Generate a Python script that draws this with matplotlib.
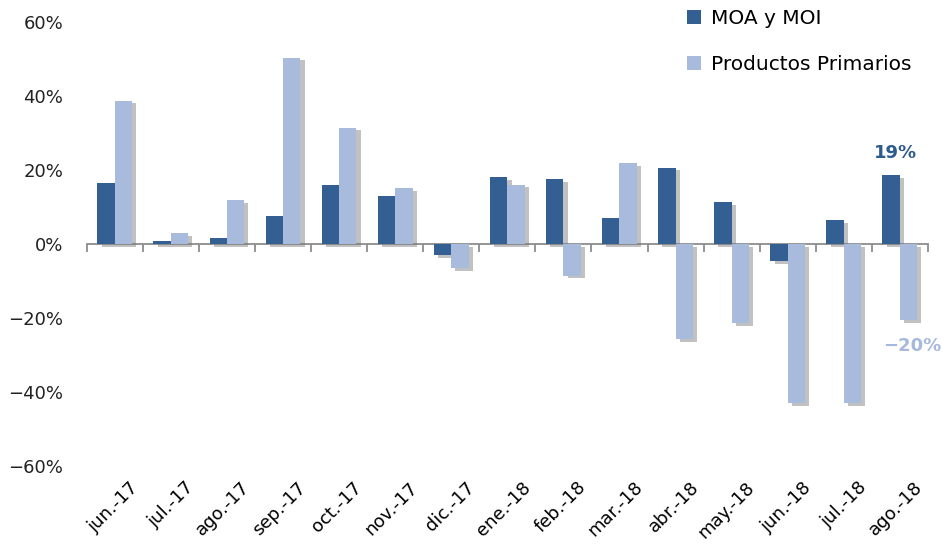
import numpy as np
import matplotlib
matplotlib.use("Agg")
import matplotlib.pyplot as plt
import matplotlib.patheffects as pe
import matplotlib.transforms as mtransforms
from matplotlib.ticker import FuncFormatter

meses = ["jun.-17", "jul.-17", "ago.-17", "sep.-17", "oct.-17", "nov.-17", "dic.-17",
         "ene.-18", "feb.-18", "mar.-18", "abr.-18", "may.-18", "jun.-18", "jul.-18", "ago.-18"]
moa_moi = [16.5, 0.8, 1.7, 7.6, 16.0, 12.9, -3.0, 18.0, 17.5, 6.9, 20.6, 11.3, -4.7, 6.5, 18.6]
primarios = [38.7, 2.9, 11.8, 50.3, 31.4, 15.0, -6.5, 16.0, -8.6, 21.8, -25.7, -21.4, -43.0, -43.0, -20.6]
etiquetas = ["19%", "\u221220%"]

c_moa = "#335f92"
c_pri = "#a9bbdd"

plt.rcParams['font.family'] = ['DejaVu Sans']

fig = plt.figure(figsize=(9.43, 5.58), dpi=100)
ax = fig.add_axes([0.092, 0.165, 0.892, 0.796])

x = np.arange(len(meses))
w = 0.31

b1 = ax.bar(x - w/2, moa_moi, w, color=c_moa, label="MOA y MOI", zorder=3)
b2 = ax.bar(x + w/2, primarios, w, color=c_pri, label="Productos Primarios", zorder=3)

leg = ax.legend(loc="upper right", bbox_to_anchor=(1.002, 1.07), frameon=False,
                fontsize=14.5, handlelength=0.7, handleheight=0.7, handletextpad=0.5,
                labelspacing=1.35)

# sombra de las barras (despues de la leyenda para que no la copie)
sombra = [pe.SimplePatchShadow(offset=(3, -2), shadow_rgbFace='#777777', alpha=0.45), pe.Normal()]
for b in list(b1) + list(b2):
    b.set_path_effects(sombra)

ax.set_xlim(-0.5, len(meses) - 0.5)
ax.set_ylim(-60, 60)
ax.set_yticks([-60, -40, -20, 0, 20, 40, 60])
ax.yaxis.set_major_formatter(FuncFormatter(lambda v, p: f"{v:.0f}%".replace("-", "\u2212")))

# linea del cero con marcas entre categorias
for s in ["left", "right", "bottom"]:
    ax.spines[s].set_visible(False)
ax.spines["top"].set_position(("data", 0))
ax.spines["top"].set_color("#8c8c8c")
ax.spines["top"].set_linewidth(1.3)
ax.set_xticks(x)
ax.set_xticks(np.arange(len(meses) + 1) - 0.5, minor=True)
ax.set_xticklabels(meses, rotation=45, ha="right", rotation_mode="anchor")
ax.tick_params(axis="x", which="major", length=0, labelsize=13, pad=9, top=False)
ax.tick_params(axis="x", which="minor", top=True, bottom=False, direction="in",
               length=6, color="#8c8c8c", width=1.3)
ax.tick_params(axis="y", length=0, labelsize=13, pad=17, colors="#222222")
desplaza = mtransforms.ScaledTranslation(10 / 72, 0, fig.dpi_scale_trans)
for lab in ax.get_xticklabels():
    lab.set_transform(lab.get_transform() + desplaza)

ax.annotate(etiquetas[0], xy=(x[-1] - w/2, moa_moi[-1]), xytext=(3, 16),
            textcoords="offset points", ha="center", va="center",
            color="#2e5a8e", fontsize=13, fontweight="bold")
ax.annotate(etiquetas[1], xy=(x[-1] + w/2, primarios[-1]), xytext=(3, -19),
            textcoords="offset points", ha="center", va="center",
            color="#a6b8dc", fontsize=13, fontweight="bold")

fig.savefig("out.png", dpi=100)
